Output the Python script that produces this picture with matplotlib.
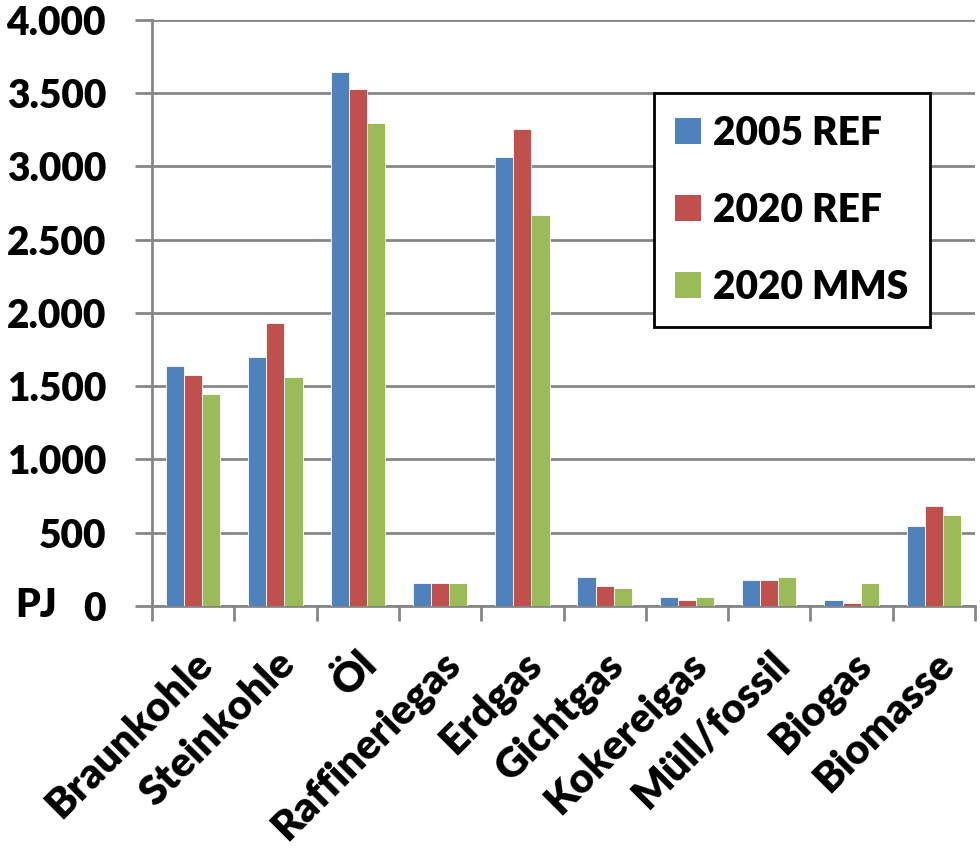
import numpy as np
import matplotlib.pyplot as plt
from matplotlib.patches import Patch

plt.rcParams['font.family'] = ['Lato', 'DejaVu Sans']
plt.rcParams['font.weight'] = 'heavy'

# Primärenergieeinsatz nach Energieträger, PJ
categories = ['Braunkohle', 'Steinkohle', 'Öl', 'Raffineriegas', 'Erdgas',
              'Gichtgas', 'Kokereigas', 'Müll/fossil', 'Biogas', 'Biomasse']
ref_2005 = [1640, 1697, 3643, 158, 3062, 195, 59, 176, 41, 545]
ref_2020 = [1578, 1933, 3529, 158, 3256, 138, 41, 176, 20, 681]
mms_2020 = [1444, 1561, 3295, 158, 2670, 120, 59, 195, 156, 624]
series_labels = ['2005 REF', '2020 REF', '2020 MMS']
colors = ['#4F81BD', '#C0504D', '#9BBB59']
yticks = np.arange(0, 4001, 500)
ytick_labels = ['0', '500', '1.000', '1.500', '2.000', '2.500', '3.000', '3.500', '4.000']

FS = 28
WT = 'heavy'

fig = plt.figure(figsize=(9.8, 8.51), dpi=100)
ax = fig.add_axes([0.155, 0.288, 0.840, 0.6885])

x = np.arange(len(categories))
w = 0.22
for i, (vals, col) in enumerate(zip([ref_2005, ref_2020, mms_2020], colors)):
    ax.bar(x + (i - 1) * w, vals, width=w, color=col, edgecolor='white',
           linewidth=0.6, zorder=3)

ax.set_xlim(-0.5, len(categories) - 0.5)
ax.set_ylim(0, 4000)
ax.set_yticks(yticks)
ax.set_yticklabels(ytick_labels, fontsize=FS, fontweight=WT)
ax.yaxis.grid(True, color='#868686', linewidth=2, zorder=0)
ax.set_axisbelow(True)

# category ticks sit on the boundaries between groups
ax.set_xticks(np.arange(-0.5, len(categories) - 0.4, 1.0))
ax.set_xticklabels([])
ax.set_xticks(x, minor=True)
ax.set_xticklabels(categories, minor=True, rotation=45, ha='right',
                   va='top', rotation_mode='anchor', fontsize=FS + 2,
                   fontweight=WT)
ax.tick_params(axis='x', which='minor', length=0, pad=28)
ax.tick_params(axis='x', which='major', length=11, width=2, color='#868686')
ax.tick_params(axis='y', length=12, width=2, color='#868686', pad=21)

for side in ['top', 'right']:
    ax.spines[side].set_visible(False)
for side in ['left', 'bottom']:
    ax.spines[side].set_color('#868686')
    ax.spines[side].set_linewidth(2)

ax.text(-0.166, 0, 'PJ', transform=ax.get_yaxis_transform(), fontsize=FS,
        fontweight=WT, ha='left', va='center')

handles = [Patch(facecolor=c, edgecolor='none') for c in colors]
leg = ax.legend(handles, series_labels, loc='upper left',
                bbox_to_anchor=(0.61, 0.875), borderaxespad=0,
                prop={'size': FS, 'weight': WT}, frameon=True,
                fancybox=False, handlelength=0.67, handleheight=0.67,
                handletextpad=0.3, labelspacing=1.03, borderpad=0.55)
leg.get_frame().set_edgecolor('black')
leg.get_frame().set_linewidth(2)
leg.get_frame().set_alpha(1)

fig.savefig('out.png', dpi=100)
